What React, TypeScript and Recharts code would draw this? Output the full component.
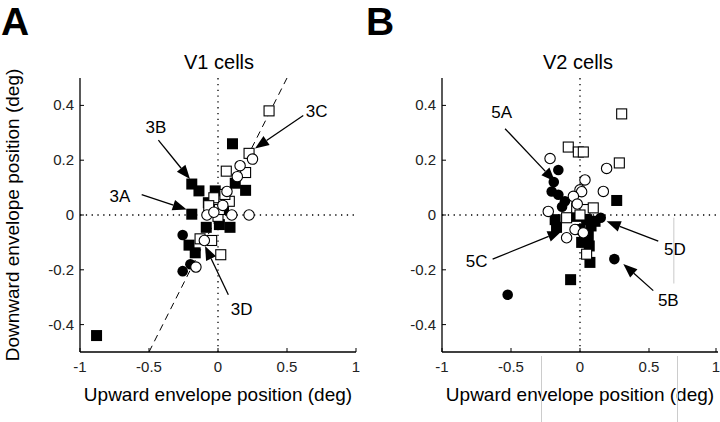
import React from 'react';
import { ScatterChart, Scatter, XAxis, YAxis, ReferenceLine } from 'recharts';

const xTicks = [-1, -0.5, 0, 0.5, 1];
const yTicks = [-0.4, -0.2, 0, 0.2, 0.4];

// V1 cells: [upward, downward] envelope positions (deg)
const v1FilledSquares = [
  [-0.88, -0.44], [0.105, 0.26], [-0.19, 0.113], [-0.138, 0.088], [-0.02, 0.088],
  [0.125, 0.116], [0.2, 0.09], [-0.19, 0.003], [-0.07, 0.045], [0.01, -0.035],
  [0.087, -0.045], [-0.085, -0.045], [-0.21, -0.11], [-0.165, -0.138], [0.04, 0.02],
];
const v1FilledCircles = [[-0.256, -0.073], [-0.2, -0.18], [-0.256, -0.205]];
const v1OpenSquares = [
  [0.37, 0.38], [0.225, 0.225], [0.06, 0.16], [0.2, 0.155], [-0.03, 0.063],
  [0.082, 0.05], [-0.067, 0.034], [0.0, -0.005], [-0.13, -0.087], [-0.046, -0.093],
  [0.02, -0.145], [0.05, 0.075], [0.01, 0.02],
];
const v1OpenCircles = [
  [0.25, 0.204], [0.16, 0.18], [0.14, 0.14], [0.065, 0.086], [-0.08, 0.0],
  [0.1, 0.0], [0.225, 0.0], [-0.099, -0.093], [-0.16, -0.19], [0.035, 0.035], [-0.03, 0.01],
];
const v1Arrows = [
  { text: '3A', from: [-0.553, 0.074], to: [-0.227, 0.02], at: [-0.71, 0.07] },
  { text: '3B', from: [-0.432, 0.273], to: [-0.203, 0.131], at: [-0.45, 0.32] },
  { text: '3C', from: [0.618, 0.363], to: [0.268, 0.243], at: [0.715, 0.381] },
  { text: '3D', from: [0.075, -0.291], to: [-0.094, -0.113], at: [0.172, -0.342] },
];

// V2 cells
const v2FilledSquares = [
  [0.266, 0.053], [-0.18, -0.017], [-0.17, -0.045], [-0.024, -0.005], [0.048, -0.017],
  [0.109, -0.023], [0.0, -0.053], [0.06, -0.077], [0.012, -0.1], [0.067, -0.113],
  [0.072, -0.173], [-0.068, -0.236], [0.08, -0.04],
];
const v2FilledCircles = [
  [-0.157, 0.164], [-0.19, 0.12], [-0.205, 0.086], [-0.157, 0.074], [-0.109, 0.05],
  [-0.13, 0.03], [0.249, -0.161], [-0.524, -0.291], [0.15, -0.01],
];
const v2OpenSquares = [
  [0.302, 0.369], [0.285, 0.19], [-0.085, 0.248], [-0.012, 0.23], [0.024, 0.23],
  [-0.024, 0.026], [0.036, 0.02], [0.096, 0.026], [-0.097, -0.01], [0.048, -0.143], [0.0, 0.0],
];
const v2OpenCircles = [
  [-0.217, 0.206], [0.193, 0.17], [0.036, 0.128], [0.0, 0.092], [0.012, 0.085],
  [-0.048, 0.068], [0.169, 0.086], [-0.23, 0.013], [-0.097, -0.083], [-0.036, -0.053],
  [0.024, -0.065], [-0.02, 0.04],
];
const v2Arrows = [
  { text: '5A', from: [-0.543, 0.315], to: [-0.181, 0.122], at: [-0.567, 0.375] },
  { text: '5B', from: [0.531, -0.276], to: [0.314, -0.179], at: [0.64, -0.312] },
  { text: '5C', from: [-0.633, -0.161], to: [-0.133, -0.059], at: [-0.749, -0.167] },
  { text: '5D', from: [0.567, -0.095], to: [0.193, -0.023], at: [0.688, -0.123] },
];

const toPts = (a: number[][]) => a.map(([x, y]) => ({ x, y }));

const FilledSquare = (p: any) => <rect x={p.cx - 5.5} y={p.cy - 5.5} width={11} height={11} fill="#000" />;
const OpenSquare = (p: any) => (
  <rect x={p.cx - 5} y={p.cy - 5} width={10} height={10} fill="#fff" stroke="#000" strokeWidth={1.1} />
);
const FilledCircle = (p: any) => <circle cx={p.cx} cy={p.cy} r={5.3} fill="#000" />;
const OpenCircle = (p: any) => <circle cx={p.cx} cy={p.cy} r={5.2} fill="#fff" stroke="#000" strokeWidth={1.1} />;
const ArrowText = (p: any) => (
  <text x={p.cx} y={p.cy} dy={6} textAnchor="middle" fontSize={17} fill="#000">
    {p.payload.text}
  </text>
);

const Arrow = (p: any) => {
  const { x1, y1, x2, y2 } = p;
  const dx = x2 - x1;
  const dy = y2 - y1;
  const len = Math.hypot(dx, dy) || 1;
  const ux = dx / len;
  const uy = dy / len;
  const bx = x2 - ux * 14;
  const by = y2 - uy * 14;
  const w = 5.5;
  return (
    <g>
      <line x1={x1} y1={y1} x2={bx} y2={by} stroke="#000" strokeWidth={1.3} />
      <polygon
        points={`${x2},${y2} ${bx - uy * w},${by + ux * w} ${bx + uy * w},${by - ux * w}`}
        fill="#000"
      />
    </g>
  );
};

const XTick = (p: any) => (
  <g>
    <line x1={p.x} y1={p.y} x2={p.x} y2={p.y - 4} stroke="#000" />
    <text x={p.x} y={p.y + 20} textAnchor="middle" fontSize={15} fill="#222">
      {String(p.payload.value)}
    </text>
  </g>
);
const YTick = (p: any) => (
  <g>
    <line x1={p.x} y1={p.y} x2={p.x + 4} y2={p.y} stroke="#000" />
    <text x={p.x - 6} y={p.y + 5} textAnchor="end" fontSize={15} fill="#222">
      {String(p.payload.value)}
    </text>
  </g>
);

interface PanelProps {
  width: number;
  filledSquares: number[][];
  filledCircles: number[][];
  openSquares: number[][];
  openCircles: number[][];
  arrows: { text: string; from: number[]; to: number[]; at: number[] }[];
  yLabel?: boolean;
  identity?: boolean;
  artifact?: boolean;
}

function Panel(props: PanelProps) {
  const { width, arrows } = props;
  return (
    <ScatterChart width={width} height={422} margin={{ top: 78, right: width - 356, bottom: 40, left: 0 }}>
      <XAxis
        type="number"
        dataKey="x"
        domain={[-1, 1]}
        ticks={xTicks}
        allowDataOverflow
        tickSize={0}
        tickMargin={0}
        tickLine={false}
        height={30}
        axisLine={{ stroke: '#000', strokeWidth: 1.3 }}
        tick={<XTick />}
        label={{
          value: 'Upward envelope position (deg)',
          position: 'bottom',
          offset: 6,
          fontSize: 19,
          fill: '#000',
        }}
      />
      <YAxis
        type="number"
        dataKey="y"
        domain={[-0.5, 0.5]}
        ticks={yTicks}
        allowDataOverflow
        tickSize={0}
        tickMargin={0}
        tickLine={false}
        width={80}
        axisLine={{ stroke: '#000', strokeWidth: 1.3 }}
        tick={<YTick />}
        label={
          props.yLabel
            ? {
                value: 'Downward envelope position (deg)',
                angle: -90,
                position: 'insideLeft',
                offset: 12,
                fontSize: 19,
                fill: '#000',
                style: { textAnchor: 'middle' },
              }
            : undefined
        }
      />
      <ReferenceLine x={0} stroke="#000" strokeWidth={1.3} strokeDasharray="1.3 4.5" />
      <ReferenceLine y={0} stroke="#000" strokeWidth={1.3} strokeDasharray="1.3 4.5" />
      {props.identity && (
        <ReferenceLine
          segment={[{ x: -0.5, y: -0.5 }, { x: 0.5, y: 0.5 }]}
          stroke="#000"
          strokeWidth={1}
          strokeDasharray="7 5"
          ifOverflow="visible"
        />
      )}
      {props.artifact && (
        <ReferenceLine
          segment={[{ x: 0.68, y: -0.01 }, { x: 0.68, y: -0.25 }]}
          stroke="#bbb"
          strokeWidth={0.8}
          ifOverflow="visible"
        />
      )}
      <Scatter data={toPts(props.filledSquares)} shape={FilledSquare} isAnimationActive={false} />
      <Scatter data={toPts(props.filledCircles)} shape={FilledCircle} isAnimationActive={false} />
      <Scatter data={toPts(props.openSquares)} shape={OpenSquare} isAnimationActive={false} />
      <Scatter data={toPts(props.openCircles)} shape={OpenCircle} isAnimationActive={false} />
      {arrows.map((a) => (
        <ReferenceLine
          key={a.text}
          segment={[{ x: a.from[0], y: a.from[1] }, { x: a.to[0], y: a.to[1] }]}
          shape={Arrow}
          ifOverflow="visible"
        />
      ))}
      <Scatter
        data={arrows.map((a) => ({ x: a.at[0], y: a.at[1], text: a.text }))}
        shape={ArrowText}
        isAnimationActive={false}
      />
    </ScatterChart>
  );
}

const abs = (left: number, top: number, extra: React.CSSProperties = {}): React.CSSProperties => ({
  position: 'absolute',
  left,
  top,
  ...extra,
});

export default function App() {
  return (
    <div
      style={{
        position: 'absolute',
        left: 0,
        top: 0,
        width: 720,
        height: 422,
        background: '#fff',
        overflow: 'hidden',
        fontFamily: '"Liberation Sans", Arial, sans-serif',
      }}
    >
      <div style={abs(0, 0)}>
        <Panel
          width={360}
          filledSquares={v1FilledSquares}
          filledCircles={v1FilledCircles}
          openSquares={v1OpenSquares}
          openCircles={v1OpenCircles}
          arrows={v1Arrows}
          yLabel
          identity
        />
      </div>
      <div style={abs(362, 0)}>
        <Panel
          width={358}
          filledSquares={v2FilledSquares}
          filledCircles={v2FilledCircles}
          openSquares={v2OpenSquares}
          openCircles={v2OpenCircles}
          arrows={v2Arrows}
          artifact
        />
      </div>
      <div style={abs(1, 2, { fontSize: 39, fontWeight: 'bold', lineHeight: '40px' })}>A</div>
      <div style={abs(366, 2, { fontSize: 39, fontWeight: 'bold', lineHeight: '40px' })}>B</div>
      <div style={abs(119, 51, { width: 200, textAlign: 'center', fontSize: 20, lineHeight: '22px' })}>V1 cells</div>
      <div style={abs(478, 51, { width: 200, textAlign: 'center', fontSize: 20, lineHeight: '22px' })}>V2 cells</div>
      <div style={abs(541, 356, { width: 1, height: 66, background: '#ccc' })} />
      <div style={abs(677, 356, { width: 1, height: 66, background: '#ccc' })} />
    </div>
  );
}
